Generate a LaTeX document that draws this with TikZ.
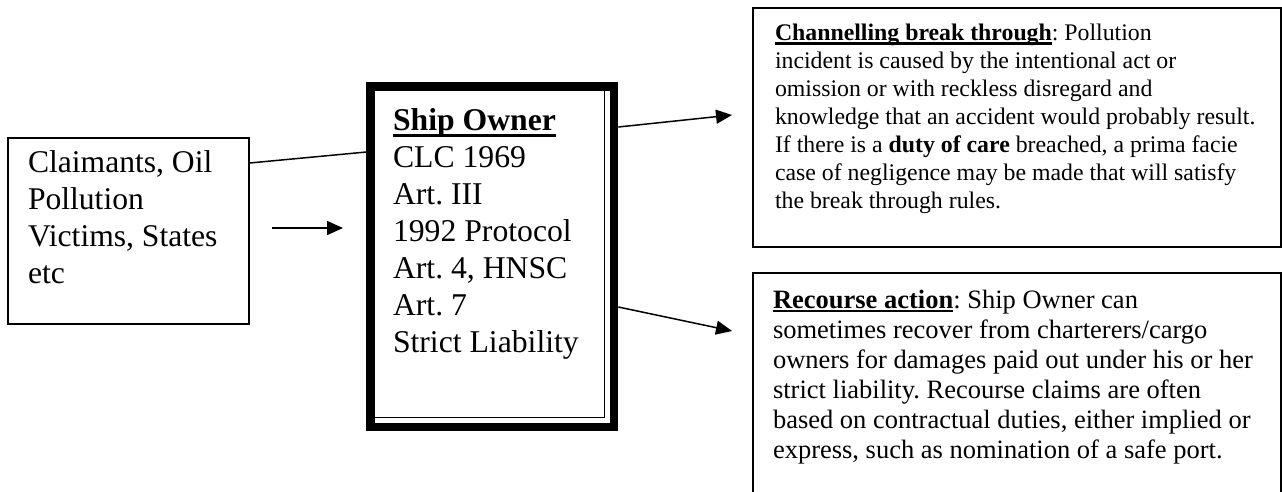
\documentclass[tikz,border=0pt]{standalone}
\usepackage{fontspec}
\setmainfont{Liberation Serif}
\usetikzlibrary{arrows.meta}
\newcommand{\ulx}[3]{\leavevmode\vtop{\setbox0\hbox{#3}\dp0=0pt\box0\kern#1\hrule height #2\relax}}
\begin{document}
\frenchspacing
\begin{tikzpicture}[x=1pt,y=-1pt,
  box/.style={draw,line width=1.6pt,inner sep=0,anchor=north west},
  conn/.style={line width=1.5pt,-{Triangle[length=16pt,width=14pt]}},
  plain/.style={line width=1.5pt},
  txt/.style={anchor=base west,inner sep=0,outer sep=0}]
\clip (0,0) rectangle (1282,491);
\fill[white] (0,0) rectangle (1282,491);
% boxes
\node[box,minimum width=241pt,minimum height=186pt] (claim) at (7,137) {};
\node[box,line width=8.7pt,minimum width=243.3pt,minimum height=340.3pt] (ship) at (366.35,82.35) {};
\node[box,line width=1.5pt,minimum width=231.6pt,minimum height=328.6pt] (shipin) at (372.2,88.2) {};
\node[box,minimum width=528pt,minimum height=239pt] (chan) at (752,7) {};
\node[box,minimum width=528pt,minimum height=240pt] (rec) at (752,272) {};
% texts
\node[txt,font=\fontsize{31.6}{37}\selectfont] (claimtxt) at (28,172)
  {\vtop{\hbox{Claimants, Oil}\hbox{Pollution}\hbox{Victims, States}\hbox{etc}}};
\node[txt,font=\fontsize{31.7}{37}\selectfont] (shiptxt) at (393,130)
  {\vtop{\hbox{\ulx{3.5pt}{3pt}{\textbf{Ship Owner}}}\hbox{CLC 1969}\hbox{Art. III}\hbox{1992 Protocol}\hbox{Art. 4, HNSC}\hbox{Art. 7}\hbox{Strict Liability}}};
\node[txt,font=\fontsize{23.8}{28}\selectfont] (chantxt) at (775,40)
  {\vtop{\hbox{\ulx{2.4pt}{2.5pt}{\textbf{Channelling break through}}: Pollution}
  \hbox{incident is caused by the intentional act or}
  \hbox{omission or with reckless disregard and}
  \hbox{knowledge that an accident would probably result.}
  \hbox{If there is a \textbf{duty of care} breached, a prima facie}
  \hbox{case of negligence may be made that will satisfy}
  \hbox{the break through rules.}}};
\node[txt,font=\fontsize{26.5}{30}\selectfont] (rectxt) at (773,308)
  {\vtop{\hbox{\ulx{1.8pt}{2.3pt}{\textbf{Recourse action}}: Ship Owner can}
  \hbox{sometimes recover from charterers/cargo}
  \hbox{owners for damages paid out under his or her}
  \hbox{strict liability. Recourse claims are often}
  \hbox{based on contractual duties, either implied or}
  \hbox{express, such as nomination of a safe port.}}};
% connectors
\coordinate (a1) at (272,228);
\coordinate (a2) at (343,228);
\coordinate (t1) at (732,115);
\coordinate (t2) at (732,331);
\draw[plain] (claim.east |- 0,163) -- (ship.west |- 0,152);
\draw[conn] (a1) -- (a2);
\draw[conn] (ship.east |- 0,127) -- (t1);
\draw[conn] (ship.east |- 0,307) -- (t2);
\end{tikzpicture}
\end{document}
